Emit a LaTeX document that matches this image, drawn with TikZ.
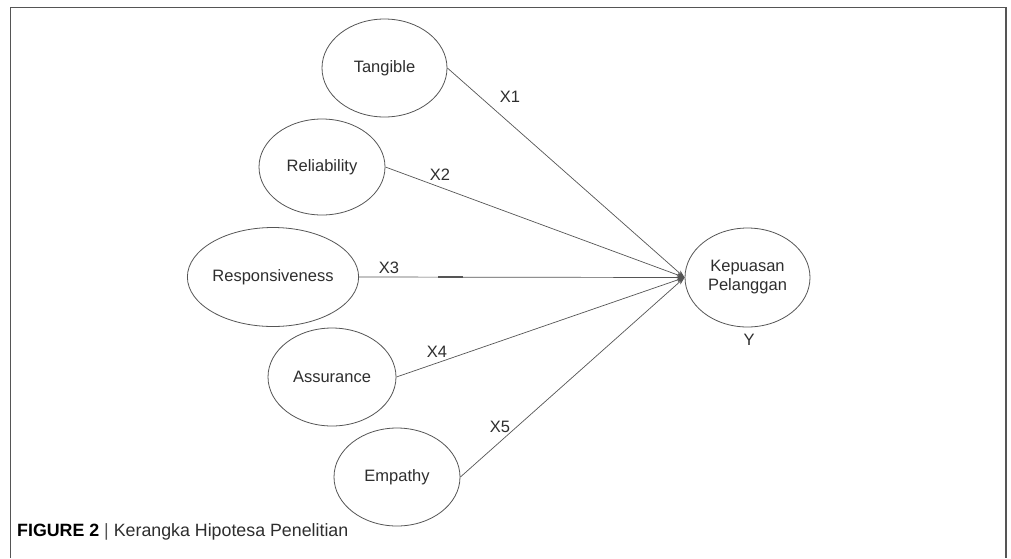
\documentclass[tikz,border=0pt]{standalone}
\usepackage{fontspec}
\setmainfont{Liberation Sans}
\usetikzlibrary{shapes.geometric,arrows.meta}
\definecolor{ink}{HTML}{2E2E2E}
\definecolor{edge}{HTML}{555555}
\tikzset{
  construct/.style={ellipse, draw=edge, line width=0.8pt, inner sep=0pt,
    text=ink, font=\fontsize{16.5}{19}\selectfont, align=center},
  link/.style={draw=edge, line width=0.7pt,
    -{Stealth[length=8pt,width=5pt]}},
  pathlabel/.style={text=ink, font=\fontsize{16.5}{19}\selectfont, inner sep=0pt}
}
\begin{document}
\begin{tikzpicture}[x=1pt,y=-1pt]
\useasboundingbox (0,0) rectangle (1011,558);
\fill[white] (0,0) rectangle (1011,558);
% open frame around the figure
\draw[edge, line width=1.3pt] (10.7,558) |- (1006,7.3) -- (1006,558);

% independent constructs
\node[construct, minimum width=125pt, minimum height=98pt] (tan)  at (384.5,68) {Tangible};
\node[construct, minimum width=126pt, minimum height=96pt] (rel)  at (322,167)  {Reliability};
\node[construct, minimum width=134pt, minimum height=99pt] (resp) at (273,277)  {Responsiveness};
\node[construct, minimum width=128pt, minimum height=98pt] (ass)  at (332,377)  {Assurance};
\node[construct, minimum width=126pt, minimum height=98pt] (emp)  at (397,477)  {Empathy};
% dependent construct
\node[construct, minimum width=125pt, minimum height=99pt] (kep)  at (747.5,277.5) {Kepuasan\\Pelanggan};
\node[pathlabel] (y) at (749,340) {Y};

% hypothesised paths
\draw[link] (tan.east)  -- (kep.west);
\draw[link] (rel.east)  -- (kep.west);
\draw[link] (resp.east) -- (kep.west);
\draw[link] (ass.east)  -- (kep.west);
\draw[link] (emp.east)  -- (kep.west);
\coordinate (dashA) at (438,277);
\coordinate (dashB) at (463,277);
\draw[edge, line width=1.2pt] (dashA) -- (dashB);

\node[pathlabel] (x1) at (510,97)  {X1};
\node[pathlabel] (x2) at (440,175) {X2};
\node[pathlabel] (x3) at (389,268) {X3};
\node[pathlabel] (x4) at (437,352) {X4};
\node[pathlabel] (x5) at (500,427) {X5};

% caption
\node[anchor=base west, inner sep=0pt, font=\fontsize{17.8}{21}\selectfont] (cap) at (17,536)
  {\textbf{FIGURE 2} \textcolor{edge}{|} \textcolor{ink}{Kerangka Hipotesa Penelitian}};
\end{tikzpicture}
\end{document}
